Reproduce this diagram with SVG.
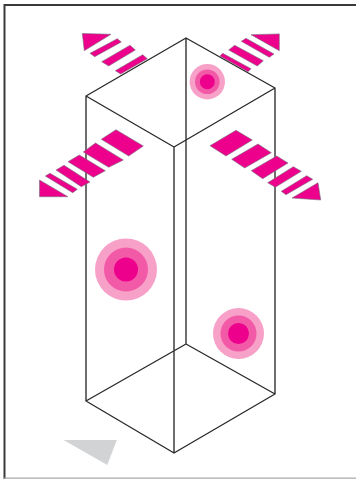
<svg xmlns="http://www.w3.org/2000/svg" width="356" height="479" viewBox="0 0 356 479">
<style>
.edge{fill:none;stroke:#2b2a29;stroke-width:1.35;stroke-linejoin:round}
.arrow polygon{fill:#ec008c;stroke:#77707a;stroke-width:.6;stroke-linejoin:miter}
.c1{fill:#f7a1c8}.c2{fill:#f25aa8}.c3{fill:#ec008c}
</style>
<rect width="356" height="479" fill="#fff"/>
<g id="frame" fill="none">
<path d="M4.5 479V5H356" stroke="#3a3a3c" stroke-width="2"/>
<path d="M4 478.2H356" stroke="#a7a9ac" stroke-width="1.2"/>
</g>
<polygon id="shadow" points="63.5,440 116.8,440 107.3,465" fill="#d1d3d4"/>
<g id="box">
<path class="edge" d="M186 38L86 96L174 147L275 88ZM86 96V401L174 453L275 394V88M174 147V453M186 38V344M86 401L186 344L275 394"/>
</g>
<g id="arrow-top-left" class="arrow">
<polygon points="82.3,33.5 111,34.3 84.3,50.7"/>
<polygon points="90,53.3 117.3,38.7 121.3,42 94.7,56.7"/>
<polygon points="101.7,61.7 130,45.3 135.3,50 108.7,66"/>
<polygon points="115.3,70.7 142.7,54.7 147.3,58.7 120.7,74"/>
</g>
<g id="arrow-top-right" class="arrow">
<polygon points="251,34.7 279.3,33.9 279.3,50.7"/>
<polygon points="241.3,41.3 246,38.3 274,54 269.3,57.3"/>
<polygon points="228.7,50 234.7,45.3 263.3,60.7 257.3,66"/>
<polygon points="220,56 222.7,53.3 251,68.7 248,71.7"/>
</g>
<g id="arrow-left" class="arrow">
<polygon points="101.3,139.3 116,129.7 143.3,146 128.7,156"/>
<polygon points="83.3,152 95.5,143 123.3,160 108.7,167.3"/>
<polygon points="68,161.7 79.3,155 105.3,170.7 93.3,177.3"/>
<polygon points="56,170 64,165.3 90,182 81.3,186.7"/>
<polygon points="45.3,176 50,173.3 77.3,189.3 72.7,192.7"/>
<polygon points="39.5,180 39.5,196.7 68,196.7"/>
</g>
<g id="arrow-right" class="arrow">
<polygon points="210,145.7 236,130.3 252.3,140 226,156"/>
<polygon points="231.7,159.3 258,144 271.3,152.7 244.7,168"/>
<polygon points="251.3,170.7 276.7,156 288,163 262.7,178.7"/>
<polygon points="267.7,182.7 293.3,166.7 301.3,171.3 275.3,187.3"/>
<polygon points="281.3,191.3 306.7,175.7 312.7,179.3 286,194.7"/>
<polygon points="292,198 318,182.7 320.7,200"/>
</g>
<g id="dot-top"><circle class="c1" cx="207.3" cy="81.7" r="17.7"/><circle class="c2" cx="207.3" cy="81.7" r="12.3"/><circle class="c3" cx="207.3" cy="81.7" r="7.5"/></g>
<g id="dot-left"><circle class="c1" cx="126" cy="269.5" r="31"/><circle class="c2" cx="126" cy="269.5" r="22"/><circle class="c3" cx="126" cy="269.5" r="12"/></g>
<g id="dot-right"><circle class="c1" cx="238.5" cy="333.5" r="25.5"/><circle class="c2" cx="238.5" cy="333.5" r="18"/><circle class="c3" cx="238.5" cy="333.5" r="10.5"/></g>
</svg>
